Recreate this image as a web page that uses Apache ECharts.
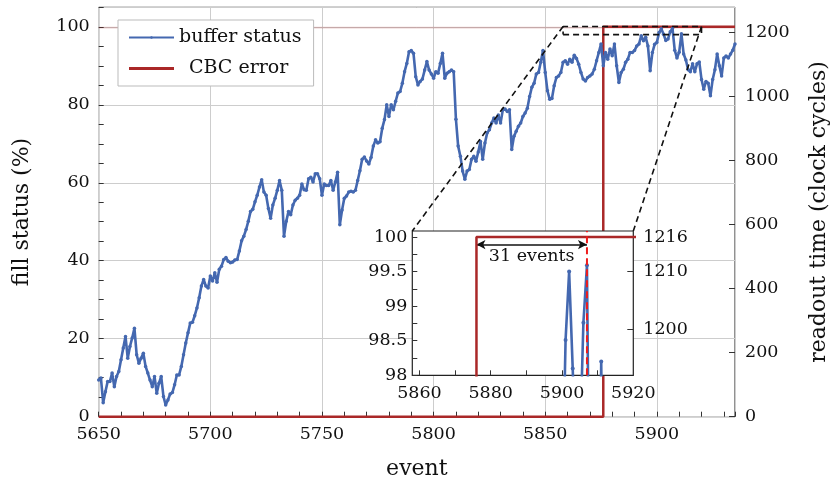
<!DOCTYPE html>
<html><head><meta charset="utf-8">
<script src="https://cdn.jsdelivr.net/npm/echarts@6/dist/echarts.min.js"></script>
<style>html,body{margin:0;padding:0;background:#fff}#c{width:833px;height:479px}</style>
</head><body><div id="c"></div>
<script>
// ---------- data ----------
const eventStart = 5650;
const fillStatus = [
 9.4, 9.9, 3.6, 6.4, 9.0, 9.0, 11.2, 7.7, 10.3, 11.6,
 14.6, 17.6, 20.6, 15.0, 18.0, 20.2, 22.7, 15.9, 13.7, 15.0,
 16.3, 12.9, 11.2, 9.4, 7.7, 10.3, 6.0, 8.6, 10.3, 5.2,
 3.0, 4.3, 5.8, 6.2, 8.2, 10.7, 10.7, 12.9, 15.9, 18.9,
 21.5, 24.0, 24.2, 25.9, 27.9, 30.5, 33.5, 35.2, 33.5, 33.0,
 36.1, 34.8, 36.9, 34.5, 37.8, 38.6, 40.3, 40.8, 39.9, 39.5,
 39.7, 40.2, 40.3, 42.5, 45.1, 46.3, 48.0, 50.1, 52.6, 53.2,
 55.1, 56.8, 58.9, 60.8, 57.6, 56.8, 53.4, 50.9, 54.3, 56.0,
 58.1, 60.6, 58.1, 46.3, 50.1, 52.6, 51.8, 54.3, 55.5, 56.0,
 56.8, 59.7, 58.2, 58.1, 61.0, 61.4, 60.2, 62.3, 62.3, 61.0,
 56.8, 59.7, 59.3, 59.3, 60.6, 58.1, 60.2, 62.7, 49.2, 53.0,
 56.0, 56.6, 57.6, 57.8, 57.6, 58.1, 60.6, 63.1, 66.0, 66.6,
 65.6, 64.8, 66.5, 69.4, 71.0, 70.2, 70.5, 74.0, 76.2, 80.0,
 77.0, 80.0, 78.7, 80.9, 83.0, 83.4, 85.5, 88.5, 90.6, 93.6,
 93.9, 93.2, 87.2, 85.1, 86.0, 86.6, 88.9, 91.1, 88.9, 87.9,
 86.8, 88.5, 88.1, 90.6, 93.2, 86.8, 88.1, 88.5, 88.9, 88.5,
 76.3, 69.4, 66.8, 63.0, 60.9, 63.0, 63.4, 66.0, 66.8, 65.5,
 67.9, 70.6, 66.0, 70.2, 72.8, 73.6, 75.3, 76.6, 75.3, 77.4,
 75.3, 78.7, 78.9, 78.3, 78.7, 68.5, 71.9, 73.2, 74.5, 75.3,
 77.0, 77.9, 79.1, 82.1, 84.5, 85.5, 87.9, 88.3, 90.9, 93.9,
 88.3, 83.6, 81.4, 81.6, 84.9, 87.0, 87.4, 88.3, 90.9, 91.3,
 90.4, 91.7, 90.9, 92.7, 91.9, 90.4, 88.3, 86.6, 86.1, 87.0,
 87.4, 87.9, 89.1, 91.3, 93.4, 95.6, 90.0, 93.4, 91.7, 94.3,
 92.6, 95.6, 90.0, 85.7, 88.3, 89.1, 90.9, 91.7, 93.4, 93.4,
 93.9, 95.1, 95.6, 97.7, 96.4, 97.3, 95.1, 88.7, 93.4, 95.5,
 96.0, 98.51, 99.5, 98.1, 96.5, 96.9, 98.76, 99.59, 94.0, 92.0,
 93.5, 98.2, 93.0, 91.5, 89.0, 88.5, 90.5, 88.5, 90.5, 91.0,
 86.5, 84.0, 86.0, 85.5, 82.3, 86.5, 89.0, 93.0, 90.0, 87.4,
 92.0, 92.5, 92.0, 93.0, 94.0, 95.6
];
const cbcEvents  = [5650, 5876, 5876, 5935];
const cbcReadout = [0, 0, 1216, 1216];
const detectEvent = 5907;
const latencyLabel = '31 events';
const fullBand = [99.55, 100];
const zoomX = [5858, 5920];
const zoomY = [98, 100.087];
const zoomReadout = [1192, 1217.05];
const mainRange = { x: [5650, 5935], fill: [0, 105], readout: [0, 1277] };
const insetXLabels = [5860, 5880, 5900, 5920];
const insetXTicks  = [5860, 5870, 5880, 5890, 5900, 5910, 5920];
const insetYLabels = [98, 98.5, 99, 99.5, 100];
const insetYTicks  = [98, 98.25, 98.5, 98.75, 99, 99.25, 99.5, 99.75, 100];
const insetRLabels = [1200, 1210, 1216];
const seriesNames = ['buffer status', 'CBC error'];
const axisNames = { x: 'event', left: 'fill status (%)', right: 'readout time (clock cycles)' };

// ---------- build ----------
const events = fillStatus.map((_, i) => eventStart + i);
const bufferData = events.map((e, i) => [e, fillStatus[i]]);
const cbcData = cbcEvents.map((e, i) => [e, cbcReadout[i]]);
const rectData = [[zoomX[0], zoomY[0]], [zoomX[1], zoomY[0]], [zoomX[1], zoomY[1]], [zoomX[0], zoomY[1]], [zoomX[0], zoomY[0]]];

const FONT = 'DejaVu Serif';
const BLUE = '#4468b0', RED = '#aa2828', INK = '#111';
const fmt = (v) => String(v);
const lbl = { fontFamily: FONT, fontSize: 17.5, color: INK };
const ttl = { fontFamily: FONT, fontSize: 22, color: INK };
const tick = (len) => ({ show: true, inside: true, length: len, lineStyle: { color: '#333', width: 1 } });

const chart = echarts.init(document.getElementById('c'), null, { renderer: 'canvas' });

const option = {
  animation: false,
  backgroundColor: '#fff',
  grid: [
    { left: 98.7, top: 7.3, right: 98, bottom: 62.3, show: true, borderColor: '#222', borderWidth: 1,
      backgroundColor: 'transparent', z: 0, containLabel: false, outerBoundsMode: 'none' },
    { left: 412.3, top: 231, width: 221, height: 144.3, show: true, borderColor: '#222', borderWidth: 1.2,
      backgroundColor: '#fff', z: 5, containLabel: false, outerBoundsMode: 'none' }
  ],
  legend: {
    orient: 'vertical', left: 118, top: 20,
    itemWidth: 45, itemHeight: 3, itemGap: 10,
    padding: [7, 12, 7, 10],
    borderColor: '#bbb', borderWidth: 1, backgroundColor: '#fff',
    textStyle: { fontFamily: FONT, fontSize: 19, color: INK, lineHeight: 21 },
    data: [
      { name: seriesNames[0] },
      { name: seriesNames[1], icon: 'rect', textStyle: { padding: [0, 0, 0, 10] } }
    ],
    z: 20
  },
  xAxis: [
    { // 0 main
      type: 'value', gridIndex: 0, min: mainRange.x[0], max: mainRange.x[1], interval: 50,
      axisLine: { show: false }, axisTick: { show: false },
      axisLabel: Object.assign({ margin: 9, showMaxLabel: false, formatter: fmt }, lbl),
      splitLine: { show: true, lineStyle: { color: '#cdcdcd', width: 1 } },
      name: axisNames.x, nameLocation: 'middle', nameGap: 42, nameTextStyle: ttl
    },
    { // 1 main minor ticks
      type: 'value', gridIndex: 0, position: 'bottom', min: mainRange.x[0], max: mainRange.x[1], interval: 10,
      axisLine: { show: false }, axisTick: tick(5), axisLabel: { show: false }, splitLine: { show: false }
    },
    { // 2 inset
      type: 'value', gridIndex: 1, min: zoomX[0], max: zoomX[1], z: 6,
      axisLine: { show: false },
      axisTick: Object.assign(tick(5), { customValues: insetXTicks }),
      axisLabel: Object.assign({ margin: 9, customValues: insetXLabels, formatter: fmt }, lbl),
      splitLine: { show: false }
    }
  ],
  yAxis: [
    { // 0 main left
      type: 'value', gridIndex: 0, position: 'left', min: mainRange.fill[0], max: mainRange.fill[1], interval: 20,
      axisLine: { show: false }, axisTick: { show: false },
      axisLabel: Object.assign({ margin: 9, showMaxLabel: false, formatter: fmt }, lbl),
      splitLine: { show: true, lineStyle: { color: '#cdcdcd', width: 1 } },
      name: axisNames.left, nameLocation: 'middle', nameGap: 65, nameTextStyle: ttl
    },
    { // 1 main left minor
      type: 'value', gridIndex: 0, position: 'left', min: mainRange.fill[0], max: mainRange.fill[1], interval: 5,
      axisLine: { show: false }, axisTick: tick(5), axisLabel: { show: false }, splitLine: { show: false }
    },
    { // 2 main right
      type: 'value', gridIndex: 0, position: 'right', min: mainRange.readout[0], max: mainRange.readout[1], interval: 200,
      axisLine: { show: false }, axisTick: tick(6),
      axisLabel: Object.assign({ margin: 10, showMaxLabel: false, formatter: fmt }, lbl),
      splitLine: { show: false },
      name: axisNames.right, nameLocation: 'middle', nameGap: 73, nameRotate: 90, nameTextStyle: ttl
    },
    { // 3 inset left
      type: 'value', gridIndex: 1, position: 'left', min: zoomY[0], max: zoomY[1], z: 6,
      axisLine: { show: false },
      axisTick: Object.assign(tick(5), { customValues: insetYTicks }),
      axisLabel: Object.assign({ margin: 5, customValues: insetYLabels, formatter: fmt }, lbl),
      splitLine: { show: false }
    },
    { // 4 inset right
      type: 'value', gridIndex: 1, position: 'right', min: zoomReadout[0], max: zoomReadout[1], z: 6,
      axisLine: { show: false },
      axisTick: Object.assign(tick(6), { customValues: insetRLabels }),
      axisLabel: Object.assign({ margin: 10, customValues: insetRLabels, formatter: fmt }, lbl),
      splitLine: { show: false }
    }
  ],
  series: [
    { // band (main)
      name: 'band', type: 'line', xAxisIndex: 0, yAxisIndex: 0, data: [], silent: true, z: 1,
      markArea: { silent: true, itemStyle: { color: 'rgba(170,40,40,0.22)' },
        data: [[{ yAxis: fullBand[0] }, { yAxis: fullBand[1] }]] }
    },
    {
      name: seriesNames[1], type: 'line', xAxisIndex: 0, yAxisIndex: 2, data: cbcData,
      symbol: 'none', lineStyle: { color: RED, width: 2.5 }, itemStyle: { color: RED }, z: 2
    },
    {
      name: seriesNames[0], type: 'line', xAxisIndex: 0, yAxisIndex: 0, data: bufferData,
      symbol: 'circle', symbolSize: 3.5, showAllSymbol: true,
      lineStyle: { color: BLUE, width: 2.6 }, itemStyle: { color: BLUE }, z: 3
    },
    { // zoom rectangle
      name: 'zoomrect', type: 'line', xAxisIndex: 0, yAxisIndex: 0, data: rectData, symbol: 'none', silent: true,
      lineStyle: { color: INK, width: 1.6, type: [6, 4] }, z: 4, clip: false
    },
    // ---------- inset ----------
    {
      name: 'band-inset', type: 'line', xAxisIndex: 2, yAxisIndex: 3, data: [], silent: true, z: 6,
      markArea: { silent: true, itemStyle: { color: 'rgba(170,40,40,0.22)' },
        data: [[{ yAxis: fullBand[0] }, { yAxis: fullBand[1] }]] }
    },
    {
      name: 'cbc-inset', type: 'line', xAxisIndex: 2, yAxisIndex: 4, data: cbcData,
      symbol: 'none', lineStyle: { color: RED, width: 2.5 }, z: 7
    },
    {
      name: 'buffer-inset', type: 'line', xAxisIndex: 2, yAxisIndex: 3, data: bufferData,
      symbol: 'circle', symbolSize: 4, showAllSymbol: true,
      lineStyle: { color: BLUE, width: 2.6 }, itemStyle: { color: BLUE }, z: 8
    },
    {
      name: 'detect', type: 'line', xAxisIndex: 2, yAxisIndex: 3,
      data: [[detectEvent, zoomY[0]], [detectEvent, zoomY[1]]], symbol: 'none', silent: true,
      lineStyle: { color: '#ee1c1c', width: 2, type: [7, 4] }, z: 9,
      markLine: {
        silent: true, symbol: ['arrow', 'arrow'], symbolSize: [7, 9],
        lineStyle: { color: INK, width: 1.6, type: 'solid' },
        label: Object.assign({ show: true, formatter: latencyLabel, position: 'insideMiddleBottom', distance: 3 }, lbl),
        data: [[{ coord: [cbcEvents[1], 99.89] }, { coord: [detectEvent, 99.89] }]]
      }
    }
  ]
};
chart.setOption(option);

// connectors from zoom rectangle to inset
const a1 = chart.convertToPixel({ xAxisIndex: 0, yAxisIndex: 0 }, [zoomX[0], zoomY[1]]);
const a2 = chart.convertToPixel({ xAxisIndex: 0, yAxisIndex: 0 }, [zoomX[1], zoomY[1]]);
const b1 = chart.convertToPixel({ xAxisIndex: 2, yAxisIndex: 3 }, [zoomX[0], zoomY[1]]);
const b2 = chart.convertToPixel({ xAxisIndex: 2, yAxisIndex: 3 }, [zoomX[1], zoomY[1]]);
const dash = { stroke: INK, lineWidth: 1.6, lineDash: [6, 4] };
chart.setOption({
  graphic: [
    { type: 'line', z: 10, silent: true, shape: { x1: a1[0], y1: a1[1], x2: b1[0], y2: b1[1] }, style: dash },
    { type: 'line', z: 10, silent: true, shape: { x1: a2[0], y1: a2[1], x2: b2[0], y2: b2[1] }, style: dash }
  ]
});
</script></body></html>
